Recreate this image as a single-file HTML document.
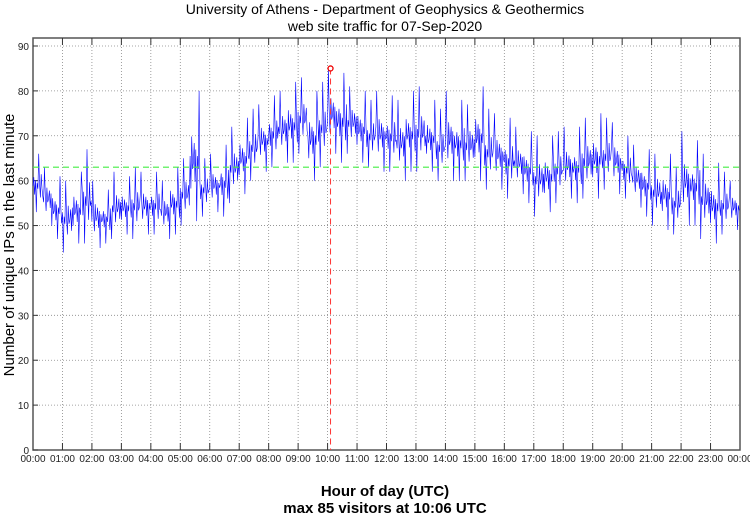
<!DOCTYPE html>
<html><head><meta charset="utf-8"><style>
body{margin:0;background:#fff;width:750px;height:515px;overflow:hidden;font-family:"Liberation Sans",sans-serif}
</style></head><body>
<svg id="c" width="750" height="515" xmlns="http://www.w3.org/2000/svg">
<text x="385" y="14" font-size="14" text-anchor="middle">University of Athens - Department of Geophysics &amp; Geothermics</text>
<text x="385" y="31" font-size="14" text-anchor="middle">web site traffic for 07-Sep-2020</text>
<text transform="translate(14,245) rotate(-90)" font-size="15" text-anchor="middle">Number of unique IPs in the last minute</text>
<text x="385" y="496" font-size="15" font-weight="bold" text-anchor="middle">Hour of day (UTC)</text>
<text x="385" y="513" font-size="15" font-weight="bold" text-anchor="middle">max 85 visitors at 10:06 UTC</text>
<g id="grid"></g><g id="series"></g><g id="marks"></g>
</svg>
<script>
const hourLabels=["00:00","01:00","02:00","03:00","04:00","05:00","06:00","07:00","08:00","09:00","10:00","11:00","12:00","13:00","14:00","15:00","16:00","17:00","18:00","19:00","20:00","21:00","22:00","23:00","00:00"];
const yTicks=[0,10,20,30,40,50,60,70,80,90];
const lows=[53,50,47,44,46,46,45,46,47,48,47,48,48,47,48,50,51,52,53,52,55,57,60,62,63,64,64,66,60,63,66,64,66,64,63,62,62,60,62,62,62,60,60,60,60,60,58,58,56,57,55,52,53,55,56,55,56,56,58,57,56,54,52,50,49,48,50,50,47,46,48,49];
const highs=[66,63,61,60,62,67,60,58,62,61,63,62,62,60,63,65,80,65,66,68,72,74,76,77,79,80,82,83,80,82,85,84,81,80,78,80,79,78,80,81,78,76,80,78,77,81,76,75,74,72,71,70,70,71,72,72,74,75,74,73,70,68,67,66,66,63,71,69,66,64,62,60];
const avgLine=63, maxVal=85, maxMinute=606;
const L=33,R=740,T=38,B=450;
const xs=m=>L+(R-L)*m/1440, ys=v=>B-v*(B-46)/90;
const NS="http://www.w3.org/2000/svg";
function mk(p,t,a){const e=document.createElementNS(NS,t);for(const k in a)e.setAttribute(k,a[k]);p.appendChild(e);return e;}
const g=document.getElementById('grid');
const frame=mk(g,'rect',{x:L,y:T,width:R-L,height:B-T,fill:'none',stroke:'#555','stroke-width':1.5});


yTicks.forEach(v=>{const y=ys(v);
 if(v>0){const l=mk(g,'line',{x1:L,x2:R,y1:y,y2:y,stroke:'#888','stroke-dasharray':'1,2','stroke-width':0.8});
 
 }
 mk(g,'line',{x1:L,x2:L+5,y1:y,y2:y,stroke:'#333'});
 const t=mk(g,'text',{x:L-4,y:y+4,'font-size':10,'text-anchor':'end',fill:'#222'});t.textContent=v;
 
 });
hourLabels.forEach((h,i)=>{const x=xs(i*60);
 if(i>0&&i<24){const l=mk(g,'line',{x1:x,x2:x,y1:T,y2:B,stroke:'#888','stroke-dasharray':'1,2','stroke-width':0.8});
 
 
 mk(g,'line',{x1:x,x2:x,y1:B,y2:B-7,stroke:'#333'});mk(g,'line',{x1:x,x2:x,y1:T,y2:T+7,stroke:'#333'});}
 const t=mk(g,'text',{x:x,y:B+12,'font-size':10,'text-anchor':'middle',fill:'#222'});t.textContent=h;
 
 });
const pat=[0.45,0.6,0.3,0.55,0.0,0.5,0.4,1.0,0.5,0.25,0.65,0.4];
let pts=[];const bin=1440/lows.length;
lows.forEach((lo,i)=>{const hi=highs[i];const n=pat.length;
 for(let k=0;k<n;k++){const f=pat[(k+i*5)%n];pts.push(xs(i*bin+bin*k/n).toFixed(1)+','+ys(lo+(hi-lo)*f).toFixed(1));}});
const s=document.getElementById('series');
const pl=mk(s,'polyline',{points:pts.join(' '),fill:'none',stroke:'#0000ff','stroke-width':0.6});


const m=document.getElementById('marks');
const avg=mk(m,'line',{x1:L,x2:R,y1:ys(avgLine),y2:ys(avgLine),stroke:'#44ee44','stroke-dasharray':'6,4','stroke-width':1.2});


const vl=mk(m,'line',{x1:xs(maxMinute),x2:xs(maxMinute),y1:ys(maxVal),y2:B,stroke:'#ff3333','stroke-dasharray':'6,4','stroke-width':1});


const mc=mk(m,'circle',{cx:xs(maxMinute),cy:ys(maxVal),r:2.5,fill:'#fff',stroke:'#ee0000','stroke-width':1.3});


</script>
</body></html>
